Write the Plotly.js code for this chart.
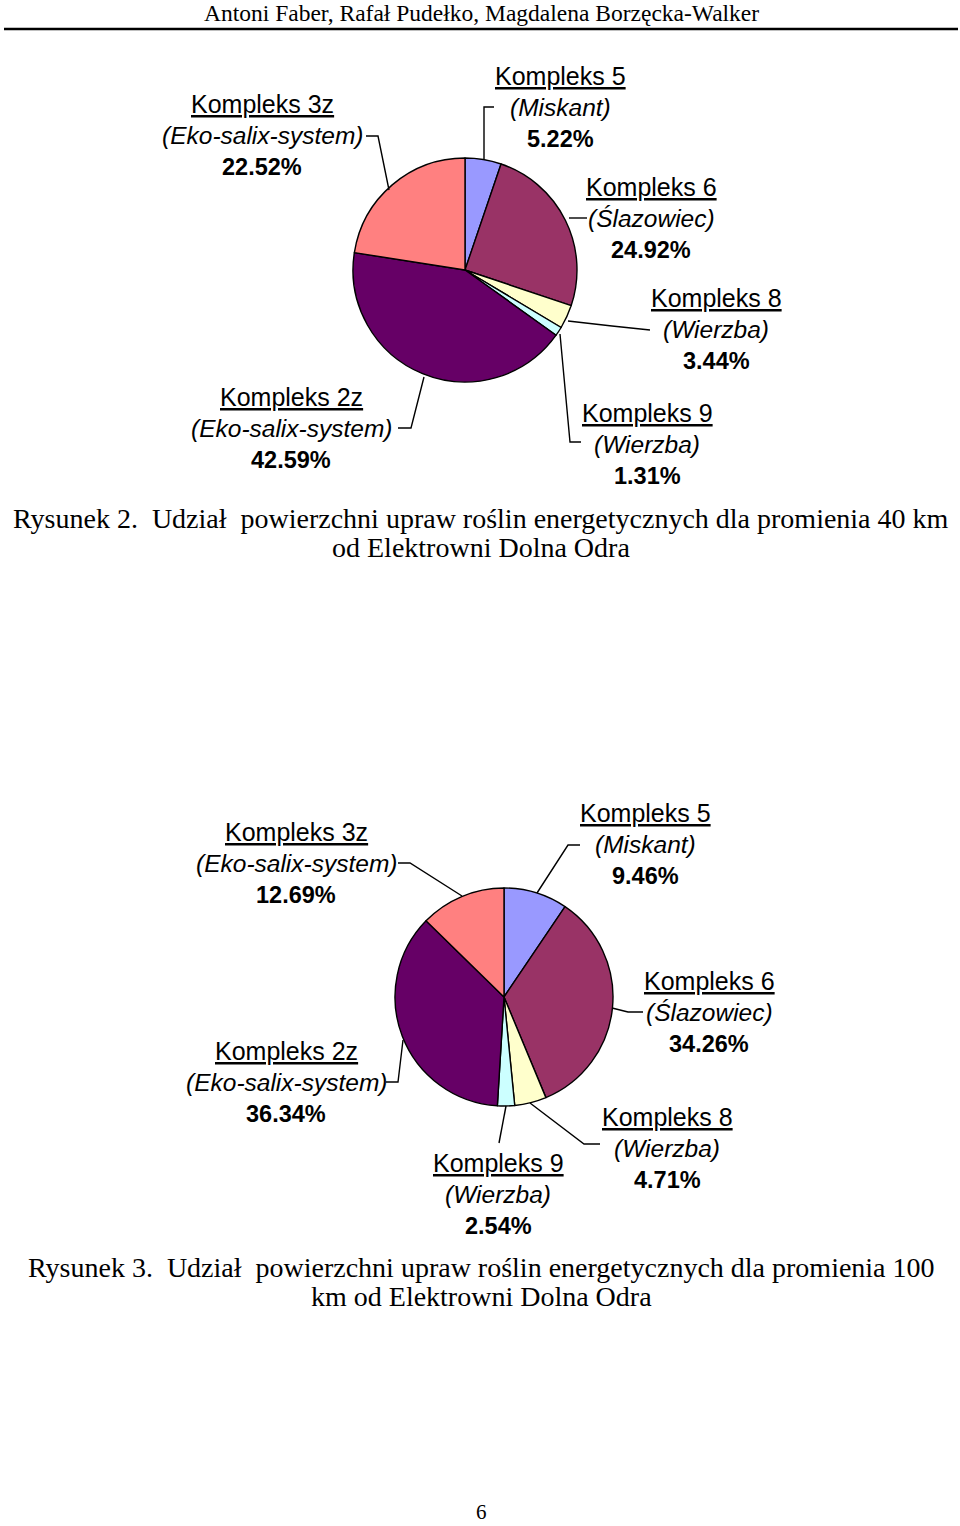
<!DOCTYPE html>
<html>
<head>
<meta charset="utf-8">
<script src="https://cdn.plot.ly/plotly-3.0.1.min.js"></script>
<style>
html,body{margin:0;padding:0;background:#fff;}
#chart{width:960px;height:1526px;}
</style>
</head>
<body>
<div id="chart"></div>
<script>
// ---------- DATA ----------
const categories = ['Kompleks 5', 'Kompleks 6', 'Kompleks 8', 'Kompleks 9', 'Kompleks 2z', 'Kompleks 3z'];
const plants = ['Miskant', 'Ślazowiec', 'Wierzba', 'Wierzba', 'Eko-salix-system', 'Eko-salix-system'];
const share40km = [5.22, 24.92, 3.44, 1.31, 42.59, 22.52];
const share100km = [9.46, 34.26, 4.71, 2.54, 36.34, 12.69];
const sliceColors = ['#9999FF', '#993366', '#FFFFCC', '#CCFFFF', '#660066', '#FF8080'];

const headerText = 'Antoni Faber, Rafał Pudełko, Magdalena Borzęcka-Walker';
const caption2 = ['Rysunek 2.\u00a0 Udział\u00a0 powierzchni upraw roślin energetycznych dla promienia 40 km', 'od Elektrowni Dolna Odra'];
const caption3 = ['Rysunek 3.\u00a0 Udział\u00a0 powierzchni upraw roślin energetycznych dla promienia 100', 'km od Elektrowni Dolna Odra'];
const pageNumber = '6';

// ---------- LAYOUT (pixel positions on the 960x1526 page) ----------
const W = 960, H = 1526;
const px = x => x / W;
const py = y => 1 - y / H;

const pies = [
  {values: share40km, cx: 465, cy: 270, r: 112,
   labelPos: [[560, 76], [651, 187], [716, 298], [647, 413], [291, 397], [262, 104]],
   leaders: [
     [[484, 159], [484, 107], [494, 107]],
     [[569, 218], [587, 218]],
     [[568, 321], [612, 326], [650, 330]],
     [[560, 334], [570, 442], [581, 442]],
     [[424, 377], [411, 428], [398, 428]],
     [[389, 190], [378, 136], [366, 136]]
   ]},
  {values: share100km, cx: 504, cy: 997, r: 109,
   labelPos: [[645, 813], [709, 981], [667, 1117], [498, 1163], [286, 1051], [296, 832]],
   leaders: [
     [[537, 893], [568, 845], [580, 845]],
     [[612, 1008], [628, 1012], [643, 1012]],
     [[530, 1103], [584, 1144], [600, 1144]],
     [[506, 1106], [499, 1143]],
     [[403, 1040], [398, 1082], [386, 1082]],
     [[462, 896], [410, 863], [398, 863]]
   ]}
];

const data = pies.map(p => ({
  type: 'pie',
  labels: categories,
  values: p.values,
  sort: false,
  direction: 'clockwise',
  rotation: 0,
  textinfo: 'none',
  hoverinfo: 'label+percent',
  showlegend: false,
  marker: {colors: sliceColors, line: {color: '#000', width: 1.4}},
  domain: {x: [px(p.cx - p.r), px(p.cx + p.r)], y: [py(p.cy + p.r), py(p.cy - p.r)]}
}));

const labelFont = 'Liberation Sans, Arial, sans-serif';
const serif = 'Liberation Serif, Times New Roman, serif';
const annotations = [];
const shapes = [];
const lineSizes = [25, 24.5, 23.5];

pies.forEach(p => {
  categories.forEach((c, i) => {
    const [x, y] = p.labelPos[i];
    const lines = ['<u>' + c + '</u>', '<i>(' + plants[i] + ')</i>', '<b>' + p.values[i].toFixed(2) + '%</b>'];
    lines.forEach((t, k) => {
      annotations.push({
        xref: 'paper', yref: 'paper', x: px(x), y: py(y + k * 31.5),
        xanchor: 'center', yanchor: 'middle', showarrow: false,
        text: t, font: {family: labelFont, size: lineSizes[k], color: '#000'}
      });
    });
    const pts = p.leaders[i];
    shapes.push({
      type: 'path', xref: 'paper', yref: 'paper',
      path: pts.map((q, j) => (j ? 'L' : 'M') + px(q[0]) + ',' + py(q[1])).join(' '),
      line: {color: '#000', width: 1.4}
    });
  });
});

function textAt(text, x, y, size, family) {
  annotations.push({xref: 'paper', yref: 'paper', x: px(x), y: py(y), xanchor: 'center', yanchor: 'middle',
    showarrow: false, text: text, font: {family: family, size: size, color: '#000'}});
}
textAt(headerText, 481, 13, 23.5, serif);
textAt(caption2[0], 481, 518, 28, serif);
textAt(caption2[1], 481, 547, 28, serif);
textAt(caption3[0], 481, 1267, 28, serif);
textAt(caption3[1], 481, 1296, 28, serif);
textAt(pageNumber, 481, 1512, 21, serif);

shapes.push({type: 'line', xref: 'paper', yref: 'paper', x0: px(4), x1: px(958), y0: py(29), y1: py(29),
  line: {color: '#000', width: 2.5}});

const layout = {
  width: W, height: H,
  margin: {l: 0, r: 0, t: 0, b: 0},
  paper_bgcolor: '#fff', plot_bgcolor: '#fff',
  annotations: annotations,
  shapes: shapes
};

Plotly.newPlot('chart', data, layout, {displayModeBar: false, staticPlot: true});
</script>
</body>
</html>
